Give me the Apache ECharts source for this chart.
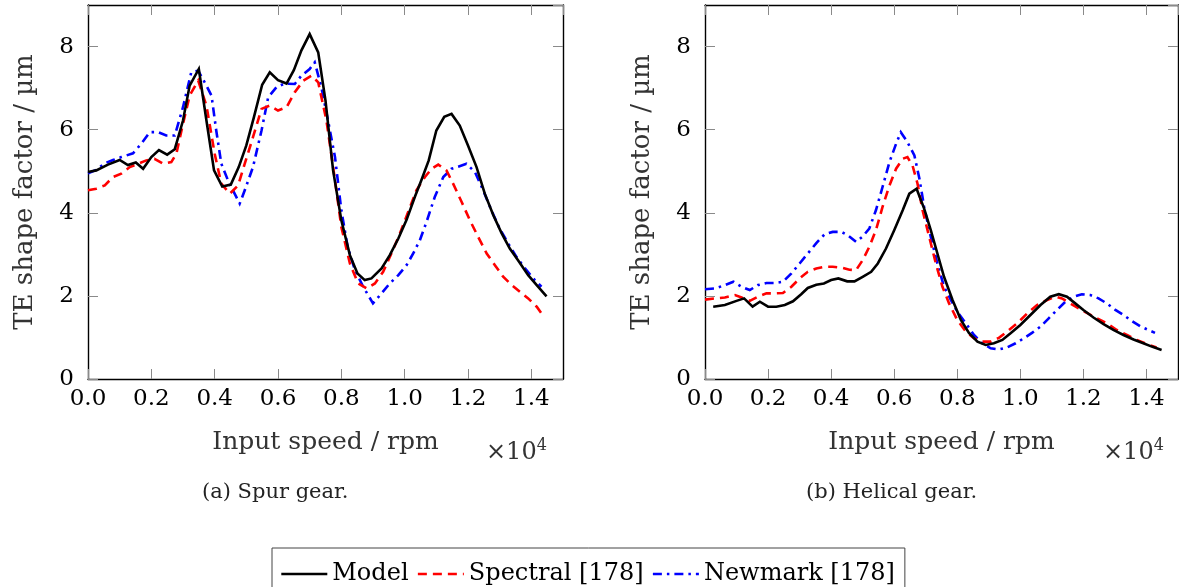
<!DOCTYPE html>
<html><head><meta charset="utf-8">
<script src="https://cdn.jsdelivr.net/npm/echarts@6/dist/echarts.min.js"></script>
<style>html,body{margin:0;padding:0;background:#fff}#c{width:1179px;height:587px}</style>
</head><body><div id="c"></div>
<script>
// ---------- data (x in units of 10^4 rpm, y in µm) ----------
const spurModelX = [0,0.026,0.063,0.10,0.126,0.151,0.174,0.2,0.224,0.25,0.274,0.30,0.321,0.35,0.374,0.398,0.424,0.451,0.476,0.50,0.524,0.55,0.574,0.60,0.627,0.65,0.674,0.70,0.727,0.75,0.774,0.80,0.827,0.851,0.874,0.895,0.927,0.953,0.98,1.006,1.032,1.053,1.076,1.10,1.125,1.148,1.174,1.2,1.227,1.253,1.28,1.306,1.332,1.358,1.39,1.417,1.448];
const spurModelY = [4.98,5.02,5.16,5.27,5.15,5.21,5.06,5.34,5.51,5.40,5.53,6.22,7.06,7.46,6.22,5.02,4.63,4.68,5.10,5.62,6.30,7.08,7.38,7.19,7.11,7.43,7.91,8.30,7.86,6.70,5.02,3.82,2.98,2.54,2.38,2.42,2.66,2.98,3.38,3.83,4.38,4.79,5.26,5.98,6.31,6.38,6.10,5.62,5.10,4.46,3.94,3.51,3.14,2.86,2.50,2.26,1.99];

const spurSpectralX = [0,0.026,0.053,0.079,0.105,0.132,0.158,0.184,0.21,0.237,0.263,0.279,0.30,0.321,0.348,0.374,0.40,0.421,0.448,0.474,0.495,0.521,0.548,0.574,0.60,0.627,0.653,0.68,0.706,0.727,0.753,0.78,0.80,0.827,0.853,0.88,0.906,0.932,0.958,0.985,1.011,1.037,1.064,1.085,1.106,1.132,1.153,1.18,1.206,1.232,1.259,1.285,1.311,1.338,1.364,1.39,1.417,1.432];
const spurSpectralY = [4.54,4.58,4.66,4.86,4.94,5.10,5.18,5.26,5.30,5.18,5.22,5.42,6.14,6.82,7.18,6.58,5.42,4.70,4.46,4.66,5.18,5.82,6.50,6.58,6.46,6.54,6.90,7.18,7.30,7.14,6.22,4.78,3.66,2.78,2.30,2.18,2.30,2.58,3.02,3.50,4.02,4.54,4.86,5.06,5.16,5.02,4.70,4.26,3.82,3.42,3.02,2.74,2.46,2.26,2.10,1.94,1.74,1.58];

const spurNewmarkX = [0,0.026,0.053,0.079,0.105,0.142,0.168,0.195,0.221,0.247,0.274,0.30,0.326,0.348,0.374,0.39,0.405,0.421,0.442,0.463,0.479,0.495,0.521,0.548,0.569,0.595,0.621,0.653,0.674,0.70,0.716,0.737,0.758,0.78,0.80,0.82,0.843,0.869,0.90,0.927,0.953,0.98,1.006,1.027,1.048,1.069,1.095,1.122,1.148,1.169,1.195,1.222,1.248,1.274,1.30,1.327,1.353,1.38,1.411,1.432];
const spurNewmarkY = [4.95,5.03,5.19,5.27,5.34,5.43,5.66,5.94,5.94,5.86,5.86,6.54,7.38,7.42,7.06,6.82,5.98,5.18,4.78,4.46,4.22,4.54,5.10,5.98,6.78,7.02,7.11,7.10,7.30,7.46,7.62,7.02,6.22,5.34,4.06,3.18,2.62,2.22,1.82,2.06,2.30,2.50,2.74,3.02,3.34,3.78,4.38,4.86,5.06,5.11,5.18,4.98,4.54,4.06,3.62,3.26,2.94,2.66,2.38,2.22];

const helModelX = [0.026,0.063,0.10,0.124,0.151,0.174,0.2,0.226,0.253,0.279,0.305,0.326,0.353,0.377,0.40,0.423,0.451,0.474,0.50,0.527,0.548,0.574,0.60,0.627,0.648,0.671,0.695,0.716,0.737,0.758,0.785,0.811,0.837,0.864,0.89,0.916,0.943,0.969,1.0,1.032,1.064,1.095,1.122,1.148,1.174,1.2,1.232,1.264,1.295,1.327,1.359,1.39,1.417,1.448];
const helModelY = [1.74,1.78,1.88,1.94,1.74,1.86,1.74,1.74,1.78,1.87,2.04,2.19,2.27,2.30,2.38,2.42,2.35,2.35,2.46,2.58,2.78,3.14,3.58,4.06,4.46,4.58,4.10,3.58,3.02,2.46,1.90,1.43,1.11,0.90,0.82,0.86,0.94,1.10,1.30,1.54,1.78,1.98,2.04,1.98,1.82,1.66,1.48,1.32,1.18,1.06,0.95,0.86,0.78,0.70];

const helSpectralX = [0,0.032,0.063,0.095,0.116,0.142,0.168,0.195,0.221,0.247,0.274,0.30,0.326,0.353,0.379,0.405,0.432,0.458,0.479,0.50,0.521,0.542,0.563,0.585,0.606,0.627,0.642,0.658,0.674,0.69,0.711,0.732,0.753,0.774,0.80,0.827,0.853,0.879,0.906,0.932,0.958,0.99,1.022,1.053,1.085,1.111,1.132,1.158,1.185,1.211,1.243,1.274,1.306,1.338,1.369,1.401,1.432];
const helSpectralY = [1.91,1.94,1.96,2.02,1.96,1.88,1.98,2.06,2.06,2.07,2.22,2.42,2.58,2.66,2.70,2.70,2.68,2.63,2.62,2.86,3.18,3.58,4.14,4.66,5.06,5.30,5.34,5.14,4.70,4.06,3.42,2.78,2.22,1.82,1.42,1.14,0.98,0.90,0.90,0.99,1.14,1.34,1.58,1.78,1.90,1.98,1.94,1.82,1.70,1.59,1.46,1.34,1.18,1.06,0.94,0.84,0.76];

const helNewmarkX = [0,0.032,0.063,0.09,0.116,0.142,0.168,0.195,0.221,0.247,0.274,0.30,0.326,0.353,0.379,0.405,0.432,0.453,0.479,0.50,0.521,0.542,0.563,0.585,0.606,0.621,0.642,0.664,0.68,0.695,0.716,0.737,0.758,0.78,0.80,0.827,0.853,0.879,0.906,0.932,0.958,0.985,1.011,1.037,1.064,1.09,1.116,1.143,1.169,1.195,1.222,1.248,1.274,1.30,1.327,1.353,1.38,1.406,1.427];
const helNewmarkY = [2.16,2.18,2.26,2.34,2.22,2.14,2.26,2.31,2.31,2.34,2.54,2.78,3.02,3.27,3.48,3.54,3.54,3.46,3.30,3.43,3.62,4.06,4.62,5.22,5.66,5.94,5.70,5.38,4.82,4.14,3.42,2.78,2.22,1.90,1.62,1.34,1.06,0.86,0.74,0.71,0.76,0.86,0.98,1.11,1.26,1.46,1.66,1.86,1.98,2.04,2.02,1.94,1.82,1.67,1.54,1.40,1.27,1.18,1.11];

const seriesNames = ['Model', 'Spectral [178]', 'Newmark [178]'];
const xTitle = 'Input speed / rpm';
const yTitle = 'TE shape factor / µm';
const captions = ['(a) Spur gear.', '(b) Helical gear.'];

// ---------- chart ----------
const FONT = 'DejaVu Serif';
const zip = (xs, ys) => xs.map((x, i) => [x, ys[i]]);
const chart = echarts.init(document.getElementById('c'), null, {renderer: 'canvas'});

const grids = [
  {left: 88, top: 5, width: 475, height: 374},
  {left: 705, top: 5, width: 473, height: 374}
];
const tickStyle = {show: true, inside: true, length: 10, lineStyle: {color: '#8a8a8a', width: 1}};
const boxLine = {show: true, onZero: false, lineStyle: {color: '#000', width: 1.4}};

const xAxes = [], yAxes = [];
grids.forEach((g, i) => {
  xAxes.push({
    gridIndex: i, type: 'value', min: 0, max: 1.5, interval: 0.2, position: 'bottom',
    axisLine: boxLine, axisTick: tickStyle, splitLine: {show: false},
    axisLabel: {showMaxLabel: false, margin: 9, color: '#000', fontFamily: FONT, fontSize: 23,
      formatter: v => v.toFixed(1)},
    name: xTitle, nameLocation: 'middle', nameGap: 51,
    nameTextStyle: {color: '#333', fontFamily: FONT, fontSize: 25}
  });
  xAxes.push({
    gridIndex: i, type: 'value', min: 0, max: 1.5, interval: 0.2, position: 'top',
    axisLine: boxLine, axisTick: tickStyle, splitLine: {show: false}, axisLabel: {show: false}
  });
  yAxes.push({
    gridIndex: i, type: 'value', min: 0, max: 9, interval: 2, position: 'left',
    axisLine: boxLine, axisTick: tickStyle, splitLine: {show: false},
    axisLabel: {showMaxLabel: false, margin: 14, color: '#000', fontFamily: FONT, fontSize: 23},
    name: yTitle, nameLocation: 'middle', nameGap: 50, nameRotate: 90,
    nameTextStyle: {color: '#333', fontFamily: FONT, fontSize: 26}
  });
  yAxes.push({
    gridIndex: i, type: 'value', min: 0, max: 9, interval: 2, position: 'right',
    axisLine: boxLine, axisTick: tickStyle, splitLine: {show: false}, axisLabel: {show: false}
  });
});

const styles = [
  {color: '#000000', type: 'solid'},
  {color: '#ff0000', type: [9, 6]},
  {color: '#0000ff', type: [9, 5, 2.5, 5]}
];
const panels = [
  [zip(spurModelX, spurModelY), zip(spurSpectralX, spurSpectralY), zip(spurNewmarkX, spurNewmarkY)],
  [zip(helModelX, helModelY), zip(helSpectralX, helSpectralY), zip(helNewmarkX, helNewmarkY)]
];
const series = [];
panels.forEach((p, gi) => {
  p.forEach((d, si) => {
    series.push({
      name: seriesNames[si], type: 'line', data: d,
      xAxisIndex: gi * 2, yAxisIndex: gi * 2,
      symbol: 'none', smooth: false, z: 10 - si,
      lineStyle: {color: styles[si].color, width: 2.6, type: styles[si].type, join: 'miter'},
      itemStyle: {color: styles[si].color}
    });
  });
});

const supTitle = (left) => ({
  text: '×10{s|4}', left: left, top: 433,
  textStyle: {fontFamily: FONT, fontSize: 24, fontWeight: 'normal', color: '#333',
    rich: {s: {fontFamily: FONT, fontSize: 16, color: '#333', verticalAlign: 'top', padding: [0, 0, 14, 0]}}}
});

chart.setOption({
  animation: false,
  backgroundColor: '#fff',
  grid: grids,
  xAxis: xAxes,
  yAxis: yAxes,
  series: series,
  title: [supTitle(481), supTitle(1098)],
  legend: {
    data: seriesNames, left: 272, top: 548,
    padding: [14, 10, 20, 8], itemGap: 8, itemWidth: 46, itemHeight: 22,
    borderColor: '#444', borderWidth: 1,
    itemStyle: {opacity: 0, borderWidth: 0},
    lineStyle: {width: 2.6},
    textStyle: {fontFamily: FONT, fontSize: 24, color: '#000'}
  },
  graphic: [
    {type: 'text', left: 202, top: 482, style: {text: captions[0], fontFamily: FONT, fontSize: 21, fill: '#222'}},
    {type: 'text', left: 806, top: 482, style: {text: captions[1], fontFamily: FONT, fontSize: 21, fill: '#222'}}
  ]
});
</script>
</body></html>
